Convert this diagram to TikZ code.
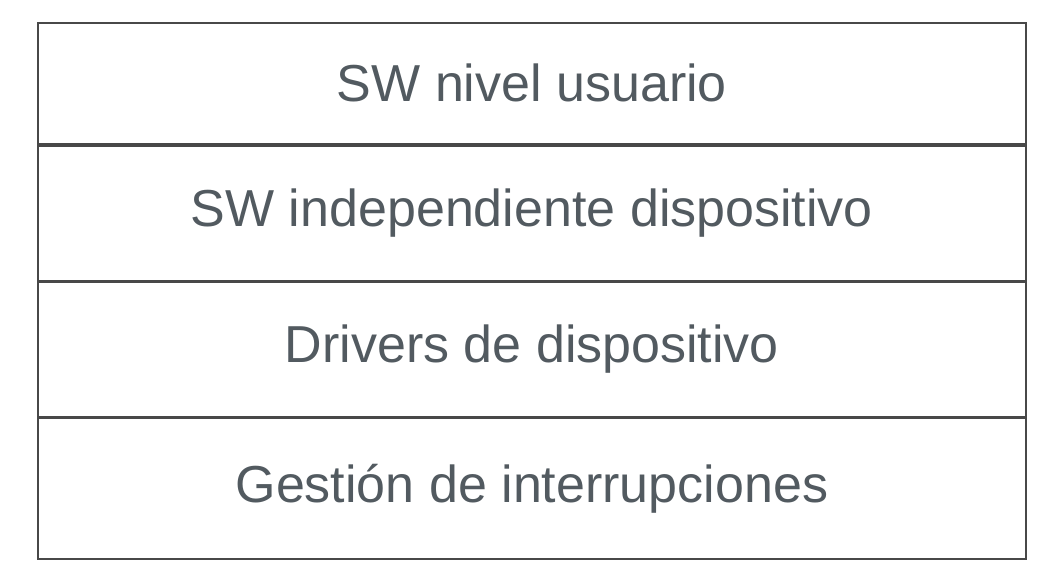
\documentclass[tikz,border=0pt]{standalone}
\usepackage{fontspec}
\setmainfont{Liberation Sans}
\usetikzlibrary{positioning}
\definecolor{inkgray}{HTML}{525A60}
\definecolor{linegray}{HTML}{484848}

\begin{document}
\begin{tikzpicture}[x=0.5pt, y=-0.5pt,
    layer/.style={draw=linegray, line width=0.9pt, minimum width=494pt,
        minimum height=#1, inner sep=0pt, text=inkgray,
        font=\fontsize{26}{31}\selectfont}]
    % page frame
    \useasboundingbox (0,0) rectangle (1046,586);

    % layers of the I/O software, top to bottom
    \node[layer=60.5pt, anchor=north west] (usuario) at (37,22) {SW nivel usuario};
    \node[layer=67.5pt, below=0pt of usuario] (independiente) {SW independiente dispositivo};
    \node[layer=67pt, below=0pt of independiente] (drivers) {Drivers de dispositivo};
    \node[layer=70.5pt, below=0pt of drivers] (interrupciones) {Gestión de interrupciones};
\end{tikzpicture}
\end{document}
